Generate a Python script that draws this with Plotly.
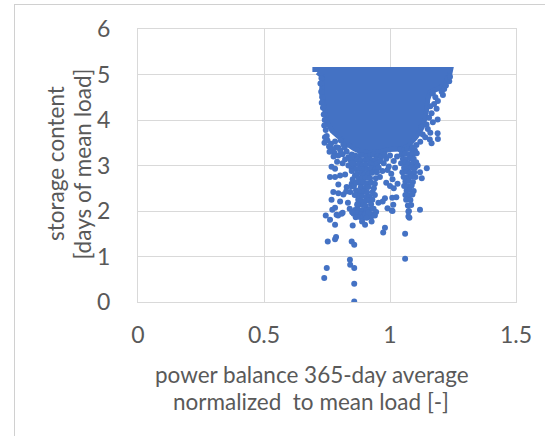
import plotly.graph_objects as go

# ---- data ----
# outline of the saturated dense core of the cloud (x: power balance, y: storage content)
core_x = [0.692, 1.241, 1.236, 1.222, 1.198, 1.160, 1.150, 1.145, 1.135, 1.120, 1.100, 1.070,
          1.040, 1.000, 0.960, 0.920, 0.885, 0.860, 0.830, 0.800, 0.770, 0.750, 0.742, 0.728,
          0.732, 0.712]
core_y = [5.11, 5.11, 4.98, 4.82, 4.70, 4.62, 4.45, 4.20, 3.95, 3.75, 3.60, 3.42,
          3.36, 3.35, 3.30, 3.28, 3.30, 3.36, 3.47, 3.62, 3.76, 3.95, 4.25, 4.60,
          4.96, 5.05]

# individual scattered points
left_fringe_x = [0.728, 0.724, 0.727, 0.731, 0.729, 0.734, 0.737, 0.741, 0.739, 0.745, 0.742, 0.740,
                 0.752, 0.758, 0.766, 0.771, 0.779, 0.787, 0.795, 0.803, 0.812, 0.820, 0.828, 0.835,
                 0.822, 0.848, 0.845, 0.776, 0.760, 0.749, 0.782, 0.795, 0.815, 0.805]
left_fringe_y = [4.92, 4.80, 4.62, 4.50, 4.38, 4.27, 4.12, 4.00, 3.88, 3.78, 3.62, 3.50,
                 3.55, 3.42, 3.48, 3.36, 3.28, 3.40, 3.22, 3.33, 3.25, 3.40, 3.31, 3.18,
                 3.13, 3.24, 3.10, 3.20, 3.30, 3.65, 3.53, 3.39, 3.46, 3.55]

left_low_x = [0.768, 0.782, 0.762, 0.782, 0.802, 0.822, 0.848, 0.861, 0.795, 0.828, 0.848, 0.775,
              0.795, 0.815, 0.842, 0.768, 0.802, 0.874, 0.888, 0.782, 0.771, 0.794, 0.812, 0.833,
              0.826, 0.847, 0.745, 0.762, 0.782, 0.788, 0.808, 0.835, 0.812, 0.790,
              0.753, 0.782, 0.786, 0.749, 0.739,
              0.848, 0.858, 0.852, 0.841, 0.842, 0.858, 0.858, 0.858]
left_low_y = [2.97, 2.93, 2.75, 2.75, 2.78, 2.80, 2.93, 2.78, 2.58, 2.53, 2.60, 2.42,
              2.39, 2.36, 2.42, 2.25, 2.21, 2.25, 2.46, 2.07, 2.03, 1.90, 1.96, 2.18,
              2.43, 2.54, 1.90, 1.81, 1.70, 1.92, 1.94, 3.00, 3.05, 3.08,
              1.33, 1.38, 1.43, 0.75, 0.53,
              1.33, 1.26, 1.68, 0.93, 0.82, 0.75, 0.40, 0.01]

mid_plume_x = [0.861, 0.876, 0.889, 0.906, 0.921, 0.934, 0.951,
               0.855, 0.871, 0.884, 0.902, 0.914, 0.931, 0.944,
               0.859, 0.877, 0.891, 0.904, 0.922, 0.936,
               0.866, 0.879, 0.896, 0.911, 0.924, 0.941,
               0.869, 0.886, 0.899, 0.916, 0.929,
               0.876, 0.891, 0.904, 0.921,
               0.881, 0.894, 0.911, 0.926,
               0.884, 0.901, 0.914,
               0.879, 0.896, 0.909, 0.931,
               0.874, 0.889, 0.906, 0.919,
               0.886, 0.899, 0.916,
               0.871, 0.891, 0.904,
               0.861, 0.874, 0.891, 0.906, 0.919,
               0.856, 0.869, 0.886, 0.899, 0.916, 0.929,
               0.864, 0.881, 0.894, 0.911, 0.926,
               0.889, 0.927, 0.901, 0.914, 0.907, 0.901,
               0.846, 0.850, 0.848, 0.852, 0.857, 0.950, 0.955, 0.948, 0.944, 0.940,
               0.936, 0.940, 0.930, 0.925, 0.935, 0.865, 0.860, 0.865, 0.870, 0.850,
               0.840, 0.945, 0.940]
mid_plume_y = [3.22, 3.21, 3.23, 3.20, 3.22, 3.24, 3.21,
               3.12, 3.13, 3.11, 3.12, 3.14, 3.11, 3.13,
               3.02, 3.03, 3.01, 3.02, 3.04, 3.01,
               2.92, 2.93, 2.91, 2.92, 2.94, 2.91,
               2.82, 2.83, 2.81, 2.82, 2.84,
               2.72, 2.71, 2.73, 2.72,
               2.62, 2.63, 2.61, 2.62,
               2.52, 2.51, 2.53,
               2.42, 2.43, 2.41, 2.42,
               2.32, 2.33, 2.31, 2.32,
               2.22, 2.21, 2.23,
               2.12, 2.13, 2.11,
               2.02, 2.03, 2.01, 2.02, 2.04,
               1.94, 1.95, 1.93, 1.94, 1.96, 1.93,
               1.86, 1.87, 1.85, 1.86, 1.88,
               1.77, 1.77, 1.92, 1.96, 1.85, 1.70,
               3.18, 3.05, 2.88, 2.70, 2.55, 3.05, 2.95, 2.85, 2.72, 2.60,
               2.50, 2.35, 2.25, 2.15, 2.05, 2.45, 2.35, 2.62, 2.15, 1.97,
               2.05, 1.98, 1.90]

gap_x = [0.965, 0.985, 1.000, 1.015, 0.975, 0.995, 1.020, 0.970, 1.005, 0.960, 1.010, 0.985,
         1.000, 1.015, 0.980, 0.954, 1.013, 1.010, 0.990, 1.007, 0.980, 0.973, 1.025, 1.030,
         0.971, 1.009, 0.962, 0.990, 1.028, 0.978]
gap_y = [3.20, 3.15, 3.22, 3.10, 3.05, 2.98, 2.95, 2.88, 2.82, 2.75, 2.70, 2.62,
         2.55, 2.50, 2.28, 2.18, 2.14, 2.00, 2.06, 2.01, 1.63, 1.53, 2.30, 2.60,
         2.21, 2.29, 3.10, 2.90, 3.20, 3.25]

right_plume_x = [1.041, 1.056, 1.069, 1.086, 1.099,
                 1.046, 1.059, 1.076, 1.089, 1.106,
                 1.051, 1.064, 1.081, 1.094,
                 1.044, 1.061, 1.074, 1.091, 1.104,
                 1.056, 1.069, 1.086, 1.099,
                 1.049, 1.066, 1.079, 1.096,
                 1.054, 1.071, 1.084, 1.101,
                 1.061, 1.074, 1.091,
                 1.056, 1.069, 1.086,
                 1.066, 1.079, 1.094,
                 1.061, 1.076, 1.089,
                 1.064, 1.081,
                 1.071, 1.084,
                 1.075, 1.073, 1.073, 1.077, 1.119, 1.060, 1.060, 1.146, 1.126, 1.119, 1.110]
right_plume_y = [3.35, 3.34, 3.36, 3.35, 3.33,
                 3.25, 3.26, 3.24, 3.25, 3.27,
                 3.15, 3.14, 3.16, 3.15,
                 3.05, 3.06, 3.04, 3.05, 3.07,
                 2.95, 2.94, 2.96, 2.95,
                 2.85, 2.86, 2.84, 2.85,
                 2.75, 2.74, 2.76, 2.75,
                 2.65, 2.66, 2.64,
                 2.55, 2.54, 2.56,
                 2.45, 2.46, 2.44,
                 2.35, 2.34, 2.36,
                 2.25, 2.24,
                 2.12, 2.13,
                 2.00, 1.99, 1.88, 1.85, 2.03, 1.50, 0.95, 2.94, 2.72, 2.85, 3.00]

right_fringe_x = [1.170, 1.180, 1.190, 1.175, 1.160, 1.185, 1.165, 1.155, 1.189, 1.170, 1.145, 1.126,
                  1.150, 1.160, 1.189, 1.130, 1.140, 1.190, 1.158, 1.165, 1.120, 1.105, 1.090, 1.205,
                  1.215, 1.222, 1.235, 1.228, 1.238, 1.210]
right_fringe_y = [4.58, 4.50, 4.42, 4.35, 4.30, 4.25, 4.15, 4.05, 4.01, 3.95, 3.90, 3.85,
                  3.80, 3.72, 3.71, 3.68, 3.62, 3.58, 3.57, 3.49, 3.52, 3.45, 3.40, 4.62,
                  4.68, 4.76, 4.85, 4.92, 4.95, 4.55]

x_ticks = [0, 0.5, 1, 1.5]
x_tick_labels = ["0", "0.5", "1", "1.5"]
y_ticks = [0, 1, 2, 3, 4, 5, 6]
y_tick_labels = ["0", "1", "2", "3", "4", "5", "6"]
x_title = ["power balance 365-day average", "normalized  to mean load [-]"]
y_title = ["storage content", "[days of mean load]"]

# ---- figure ----
BLUE = "#4472C4"
GRID = "#d9d9d9"
FRAME = "#d0d0d0"
TXT = "#595959"
FONT = "Lato"
TICK_SIZE = 23
TITLE_SIZE = 22.5

pts_x = left_fringe_x + left_low_x + mid_plume_x + gap_x + right_plume_x + right_fringe_x
pts_y = left_fringe_y + left_low_y + mid_plume_y + gap_y + right_plume_y + right_fringe_y

fig = go.Figure()
fig.add_trace(go.Scatter(x=core_x, y=core_y, mode="lines", fill="toself",
                         fillcolor=BLUE, line=dict(color=BLUE, width=5),
                         hoverinfo="skip", showlegend=False))
fig.add_trace(go.Scatter(x=pts_x, y=pts_y, mode="markers",
                         marker=dict(color=BLUE, size=6, line=dict(width=0)),
                         showlegend=False))

L, R, T, B = 138, 29, 29, 134
W, H = 545, 436
pw, ph = W - L - R, H - T - B

def px(xp):
    return (xp - L) / pw

def py(yp):
    return (H - B - yp) / ph

fig.update_layout(
    width=W, height=H,
    margin=dict(l=L, r=R, t=T, b=B),
    paper_bgcolor="white", plot_bgcolor="white",
    font=dict(family=FONT, size=TICK_SIZE, color=TXT),
    xaxis=dict(range=[0, 1.5], tickvals=x_ticks, ticktext=x_tick_labels,
               showgrid=True, gridcolor=GRID, gridwidth=1, zeroline=False,
               showline=True, linecolor=GRID, mirror=True, ticks="",
               ticklabelstandoff=12, tickfont=dict(family=FONT, size=TICK_SIZE, color=TXT)),
    yaxis=dict(range=[0, 6], tickvals=y_ticks, ticktext=y_tick_labels,
               showgrid=True, gridcolor=GRID, gridwidth=1, zeroline=False,
               showline=True, linecolor=GRID, mirror=True, ticks="",
               ticklabelstandoff=22, tickfont=dict(family=FONT, size=TICK_SIZE, color=TXT)),
    annotations=[
        dict(text=x_title[0], xref="paper", yref="paper", x=px(312), y=py(374),
             xanchor="center", yanchor="middle", showarrow=False,
             font=dict(family=FONT, size=TITLE_SIZE, color=TXT)),
        dict(text=x_title[1], xref="paper", yref="paper", x=px(311), y=py(401),
             xanchor="center", yanchor="middle", showarrow=False,
             font=dict(family=FONT, size=TITLE_SIZE, color=TXT)),
        dict(text=y_title[0], xref="paper", yref="paper", x=px(79), y=py(164), xshift=-24,
             xanchor="center", yanchor="middle", showarrow=False, textangle=-90,
             font=dict(family=FONT, size=TITLE_SIZE, color=TXT)),
        dict(text=y_title[1], xref="paper", yref="paper", x=px(106), y=py(164), xshift=-24.5,
             xanchor="center", yanchor="middle", showarrow=False, textangle=-90,
             font=dict(family=FONT, size=TITLE_SIZE, color=TXT)),
    ],
    shapes=[
        dict(type="line", xref="paper", yref="paper",
             x0=px(14.5), x1=px(W), y0=py(4.5), y1=py(4.5),
             line=dict(color=FRAME, width=1), layer="above"),
        dict(type="line", xref="paper", yref="paper",
             x0=px(14.5), x1=px(14.5), y0=py(4.5), y1=py(H),
             line=dict(color=FRAME, width=1), layer="above"),
    ],
)

frame_js = (
    "document.body.style.margin='0px';document.body.style.padding='0px';"
    "document.body.style.overflow='hidden';"
    "var fr=document.createElement('div');"
    "fr.style.cssText='position:fixed;left:14px;top:4px;width:540px;height:440px;z-index:1000;"
    "border-left:1px solid #d0d0d0;border-top:1px solid #d0d0d0;pointer-events:none;';"
    "document.body.appendChild(fr);"
)

fig.write_html("out.html", config={"displayModeBar": False, "staticPlot": True},
               post_script=frame_js)
